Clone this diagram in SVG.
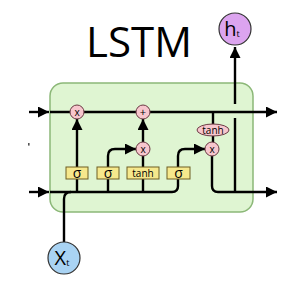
<svg xmlns="http://www.w3.org/2000/svg" width="291" height="288" viewBox="0 0 291 288">
<style>
.ln{fill:none;stroke:#000;stroke-width:2.4;stroke-linejoin:round}
.op{fill:#f7c6cd;stroke:#6b3a44;stroke-width:1}
.gate{fill:#f6e88c;stroke:#6e5e22;stroke-width:1}
.t{font-family:"Open Sans","DejaVu Sans",sans-serif;fill:#000;text-anchor:middle}
</style>
<defs>
<marker id="ah" markerUnits="userSpaceOnUse" markerWidth="12" markerHeight="11" refX="11" refY="5.5" orient="auto">
<path d="M0,0 L11,5.5 L0,11 z" fill="#000"/>
</marker>
</defs>
<rect x="28" y="143" width="1.6" height="2.6" fill="#555"/>
<text class="t" x="139" y="57" font-size="42">LSTM</text>
<g id="cell">
<rect x="50" y="83" width="203" height="129" rx="13" fill="#dff5d2" stroke="#8cb878" stroke-width="1.5"/>
</g>
<g id="connectors">
<path class="ln" d="M29,112 H49" marker-end="url(#ah)"/>
<path class="ln" d="M29,192 H49" marker-end="url(#ah)"/>
<path class="ln" d="M50,112 H277" marker-end="url(#ah)"/>
<path class="ln" d="M50,192 H172 Q178,192 178,186 V156 Q178,149 185,149 H205" marker-end="url(#ah)"/>
<path class="ln" d="M64,242 V199 Q64,192 71,192"/>
<path class="ln" d="M77,192 V119" marker-end="url(#ah)"/>
<path class="ln" d="M108,192 V156 Q108,149 115,149 H136" marker-end="url(#ah)"/>
<path class="ln" d="M143,192 V149"/>
<path class="ln" d="M143,142 V119" marker-end="url(#ah)"/>
<path class="ln" d="M213,112 V149"/>
<path class="ln" d="M212,149 V186 Q212,192 218,192 H277" marker-end="url(#ah)"/>
<path class="ln" d="M235,192 V118"/>
<path class="ln" d="M235,104 V47" marker-end="url(#ah)"/>
</g>
<g id="forget_mult"><circle class="op" cx="77" cy="112" r="7"/><text class="t" x="77" y="115.5" font-size="10">x</text></g>
<g id="add"><circle class="op" cx="143" cy="112" r="7"/><text class="t" x="143" y="116" font-size="11">+</text></g>
<g id="input_mult"><circle class="op" cx="143" cy="149" r="7"/><text class="t" x="143" y="152.5" font-size="10">x</text></g>
<g id="output_mult"><circle class="op" cx="212" cy="149" r="7"/><text class="t" x="212" y="152.5" font-size="10">x</text></g>
<g id="tanh_out"><ellipse class="op" cx="213" cy="130" rx="16" ry="6"/><text class="t" x="213" y="133.5" font-size="10">tanh</text></g>
<g id="sigma1"><rect class="gate" x="66" y="167" width="22" height="12"/><text class="t" x="77" y="177.5" font-size="14">σ</text></g>
<g id="sigma2"><rect class="gate" x="97" y="167" width="22" height="12"/><text class="t" x="108" y="177.5" font-size="14">σ</text></g>
<g id="tanh_gate"><rect class="gate" x="127" y="167" width="32" height="12"/><text class="t" x="143" y="176.5" font-size="10">tanh</text></g>
<g id="sigma3"><rect class="gate" x="167" y="167" width="23" height="12"/><text class="t" x="178.5" y="177.5" font-size="14">σ</text></g>
<g id="h_t"><circle cx="235" cy="29" r="16" fill="#dca4ef" stroke="#333" stroke-width="1.2"/><text class="t" x="232" y="36" font-size="20">h<tspan font-size="9" dy="1">t</tspan></text></g>
<g id="x_t"><circle cx="64" cy="258" r="16" fill="#a9d3f3" stroke="#333" stroke-width="1.2"/><text class="t" x="62" y="265" font-size="20">X<tspan font-size="9" dy="1">t</tspan></text></g>
</svg>
